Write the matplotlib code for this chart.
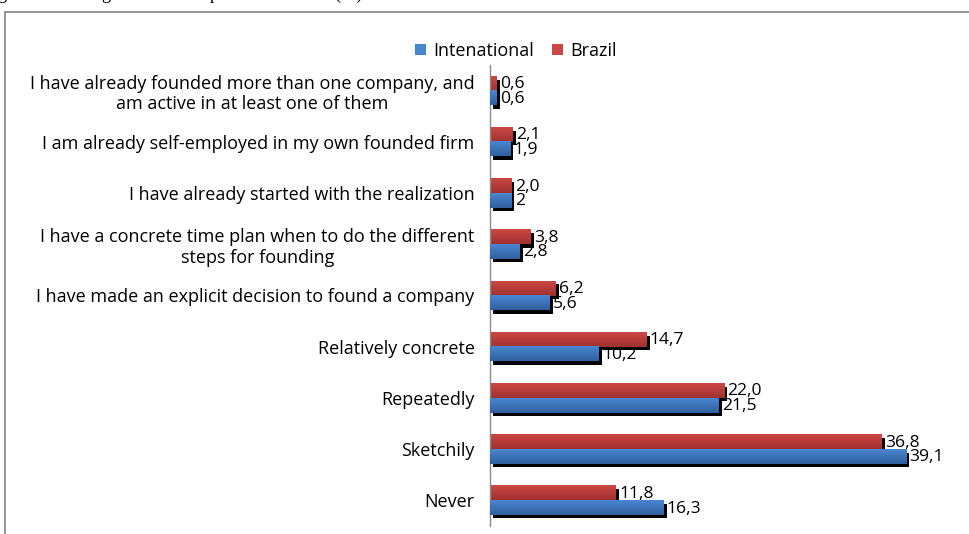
"""Founding-stage answers, International vs Brazil, as shadowed horizontal bars."""

import matplotlib
matplotlib.use("Agg")
import matplotlib.pyplot as plt
import numpy as np
from matplotlib.colors import LinearSegmentedColormap
from matplotlib.patches import Rectangle

CATEGORIES = [
    "I have already founded more than one company, and\nam active in at least one of them",
    "I am already self-employed in my own founded firm",
    "I have already started with the realization",
    "I have a concrete time plan when to do the different\nsteps for founding",
    "I have made an explicit decision to found a company",
    "Relatively concrete",
    "Repeatedly",
    "Sketchily",
    "Never",
]
INTERNATIONAL = [0.6, 1.9, 2.0, 2.8, 5.6, 10.2, 21.5, 39.1, 16.3]
BRAZIL = [0.6, 2.1, 2.0, 3.8, 6.2, 14.7, 22.0, 36.8, 11.8]
INTL_LABELS = ["0,6", "1,9", "2", "2,8", "5,6", "10,2", "21,5", "39,1", "16,3"]
BRAZIL_LABELS = ["0,6", "2,1", "2,0", "3,8", "6,2", "14,7", "22,0", "36,8", "11,8"]
SERIES_NAMES = ["Intenational", "Brazil"]

W, H = 970, 534
FONT = "Open Sans"
FS = 13

BLUE_TOP, BLUE_BOT = "#4a86d0", "#30609f"
RED_TOP, RED_BOT = "#cc4744", "#a0322f"


def grad_bar(ax, value, y_top, height, c_top, c_bot, z):
    cmap = LinearSegmentedColormap.from_list("g", [c_top, c_bot])
    grad = np.linspace(0, 1, 32).reshape(-1, 1)
    # origin upper: row 0 sits at the "top" extent value (visually top, y inverted)
    ax.imshow(grad, cmap=cmap, aspect="auto", origin="upper",
              extent=(0, value, y_top + height, y_top), zorder=z,
              interpolation="bilinear")


def main():
    fig = plt.figure(figsize=(W / 100, H / 100), dpi=100)

    # outer frame (right and bottom run off the picture)
    fig.patches.append(Rectangle((5 / W, -0.05), 1.2, 1 - 12 / H + 0.05,
                                 transform=fig.transFigure, fill=False,
                                 edgecolor="#8c8c8c", linewidth=1.3))

    ax = fig.add_axes([490 / W, 8 / H, 480 / W, 461 / H])
    px_per_unit = 10.64
    xmax = 480 / px_per_unit
    n = len(CATEGORIES)
    pos = np.arange(n)
    bar_h = 0.285
    dx = 3.2 / px_per_unit
    dy = 3.5 / (461 / n)

    for i in range(n):
        ax.add_patch(Rectangle((dx, pos[i] - bar_h + dy), BRAZIL[i], bar_h,
                               facecolor="black", edgecolor="none", zorder=1))
        grad_bar(ax, BRAZIL[i], pos[i] - bar_h, bar_h, RED_TOP, RED_BOT, 2)
        ax.add_patch(Rectangle((dx, pos[i] + dy), INTERNATIONAL[i], bar_h,
                               facecolor="black", edgecolor="none", zorder=3))
        grad_bar(ax, INTERNATIONAL[i], pos[i], bar_h, BLUE_TOP, BLUE_BOT, 4)

    for i in range(n):
        ax.annotate(BRAZIL_LABELS[i], (BRAZIL[i] + dx, pos[i] - bar_h / 2),
                    xytext=(0.2, -0.6), textcoords="offset points",
                    ha="left", va="center", fontsize=12.6, family=FONT,
                    color="black", zorder=6)
        ax.annotate(INTL_LABELS[i], (INTERNATIONAL[i] + dx, pos[i] + bar_h / 2),
                    xytext=(0.2, -0.6), textcoords="offset points",
                    ha="left", va="center", fontsize=12.6, family=FONT,
                    color="black", zorder=6)

    ax.set_xlim(0, xmax)
    ax.set_ylim(n - 0.5, -0.5)
    ax.set_yticks(pos)
    ax.set_yticklabels(CATEGORIES, family=FONT, fontsize=FS)
    for t in ax.get_yticklabels():
        t.set_multialignment("center")
    ax.tick_params(axis="y", length=0, pad=11)
    ax.set_xticks([])
    for side in ["top", "right", "bottom"]:
        ax.spines[side].set_visible(False)
    ax.spines["left"].set_color("#8c8c8c")
    ax.spines["left"].set_linewidth(1.0)
    ax.patch.set_visible(False)

    handles = [Rectangle((0, 0), 1, 1, facecolor=BLUE_TOP),
               Rectangle((0, 0), 1, 1, facecolor=RED_TOP)]
    fig.legend(handles, SERIES_NAMES, loc="center", ncol=2,
               bbox_to_anchor=(516 / W, 1 - 51 / H), frameon=False,
               prop={"family": FONT, "size": FS}, handlelength=0.6,
               handleheight=0.6, handletextpad=0.4, columnspacing=1.0)

    # caption line of the page, only its lower edge shows
    fig.text(-2 / W, 1 + 1.2 / H,
             "gure 10: Thoughts about the plan of founders (%)",
             family="Liberation Serif", fontsize=13.2, va="baseline", ha="left")

    fig.savefig("out.png", dpi=100, facecolor="white")


if __name__ == "__main__":
    main()
